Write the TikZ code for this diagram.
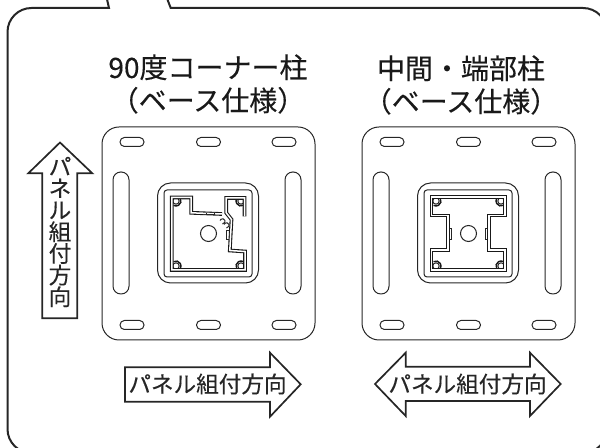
\documentclass[tikz,border=0pt]{standalone}
\usepackage{fontspec}
\setmainfont[FakeBold=0.25]{Noto Sans CJK JP}
\tikzset{
    outline/.style={line width=1pt, black!85},
    dirarrow/.style={line width=0.85pt, black!85, line join=miter},
    titletext/.style={align=center, font=\fontsize{14pt}{16.5pt}\selectfont, black!90},
    dirtext/.style={font=\fontsize{11.3pt}{13pt}\selectfont, black!85},
    plateline/.style={line width=0.5pt, black!85},
    wall/.style={line width=0.55pt, black!90, double=white, double distance=0.75pt, line join=miter},
    slot/.style={plateline, rounded corners=2.2pt},
    sideslot/.style={plateline, rounded corners=3.9pt},
    baseplate/.pic={
        \draw[plateline, rounded corners=8.5pt] (-106.5,-106.5) rectangle (106.5,106.5);
        \foreach \x in {-76.5,0,75.5}{
            \draw[slot] (\x-12,-96) rectangle (\x+12,-87);
            \draw[slot] (\x-12,87) rectangle (\x+12,96);
        }
        \foreach \x in {-87.5,84.5}{
            \draw[sideslot] (\x-8,-61.5) rectangle (\x+8,60.5);
        }
        \draw[plateline, rounded corners=6.5pt] (-51,-50.5) rectangle (50,49.5);
        \draw[plateline, rounded corners=1.5pt] (-44.5,-43.5) rectangle (43.5,43.5);
        \draw[plateline] (0,0) circle[radius=8];
        % corner studs of the post
        \foreach \cx/\cy/\ang in {-32.5/-32.5/45, 32.5/-32.5/135, -32.5/32.5/-45, 32.5/32.5/225}{
            \draw[plateline, fill=white] (\cx,\cy) circle[radius=3.2];
            \draw[line width=0.7pt, black!90] (\cx,\cy) ++(\ang-75:5) arc[start angle=\ang-75, delta angle=150, radius=5];
        }
    },
    cornerpost/.pic={
        \draw[wall] (36,-17) -- (36,-35.5) -- (17.7,-35.5) -- (17.7,-20.7) -- (23,-14) -- (21.3,17) -- (36.5,18)
            -- (36.5,36.5) -- (-36.7,36.5) -- (-36.7,-36) -- (-17.3,-36) -- (-17.3,-20.7) -- (13.5,-19.5);
        % clip of the corner post
        \draw[plateline] (11.5,-13) arc[start angle=200, delta angle=250, radius=2.6];
        \draw[plateline] (15.5,-9) arc[start angle=200, delta angle=250, radius=2.6];
        \draw[plateline] (-2,-20) -- (-2,-18.5) -- (6,-18.5) -- (6,-20);
        \draw[plateline] (20,-3) -- (18,-3) -- (18,6) -- (20,6);
    },
    midpost/.pic={
        \draw[wall] (-37,-36.5) -- (36.5,-36.5) -- (36.5,-18) -- (20.3,-18) -- (20.3,16.7) -- (36.5,16.7)
            -- (36.5,36.5) -- (-37,36.5) -- (-37,16.7) -- (-20.7,16.7) -- (-20.7,-18) -- (-37,-18) -- cycle;
        \draw[plateline] (-19,-5) -- (-17.5,-5) -- (-17.5,6) -- (-19,6);
        \draw[plateline] (18.7,-5) -- (17.2,-5) -- (17.2,6) -- (18.7,6);
    }
}

\begin{document}
\begin{tikzpicture}[x=0.5pt,y=-0.5pt]
    \useasboundingbox (0,0) rectangle (600,448);

    % balloon outline, runs off the page at right and bottom
    \begin{scope}
        \clip (0,0) rectangle (600,448);
        \draw[outline] (166.5,-3) -- (170.7,8) [rounded corners=12pt] -- (607,8) -- (607,453) -- (7.5,453) -- (7.5,8) [sharp corners] -- (109,8) -- (106.5,-3);
    \end{scope}

    \node[titletext] (titleCorner) at (208,84) {90度コーナー柱\\（ベース仕様）};
    \node[titletext] (titleMiddle) at (461,85) {中間・端部柱\\（ベース仕様）};

    \pic at (208.5,233.5) {baseplate};
    \pic at (208.5,233.5) {cornerpost};
    \pic at (468.5,233.5) {baseplate};
    \pic at (468.5,233.5) {midpost};

    \draw[dirarrow] (42.3,318.3) -- (42.3,173.3) -- (28.3,173.3) -- (60,142.5) -- (92.3,173.3) -- (77.3,173.3) -- (77.3,318.3) -- cycle;
    \node[dirtext, align=center, font=\fontsize{11.3pt}{10.85pt}\selectfont] (dirUp) at (60,232) {パ\\ネ\\ル\\組\\付\\方\\向};

    \draw[dirarrow] (125,367.3) -- (270,367.3) -- (270,352.7) -- (300.7,384.3) -- (270,416.7) -- (270,401.7) -- (125,401.7) -- cycle;
    \node[dirtext] (dirRight) at (207.5,384) {パネル組付方向};

    \draw[dirarrow] (375,384) -- (405.7,352.7) -- (405.7,366.7) -- (530,366.7) -- (530,352.7) -- (560.7,384)
        -- (530,416) -- (530,401) -- (405.7,401) -- (405.7,416) -- cycle;
    \node[dirtext] (dirBoth) at (467.5,384) {パネル組付方向};
\end{tikzpicture}
\end{document}
